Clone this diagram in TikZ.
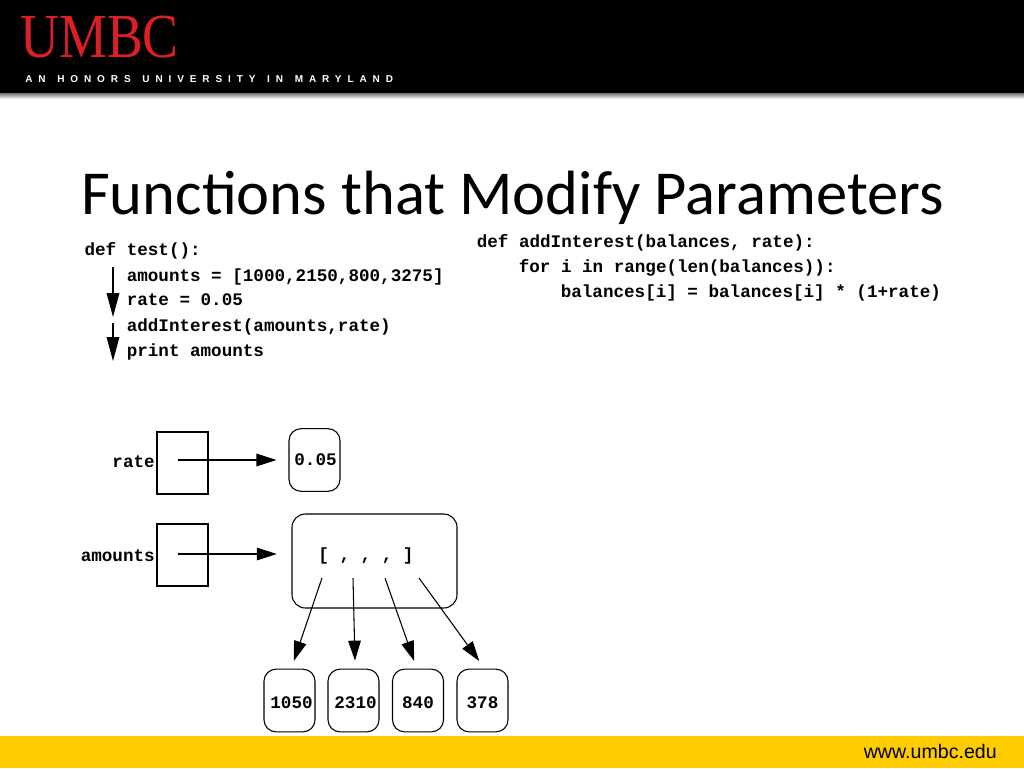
\documentclass[tikz,border=0pt]{standalone}
\usepackage{fontspec}
\setmainfont{Carlito}
\setmonofont{Liberation Mono}
\newfontfamily\logofont{Liberation Serif}
\newfontfamily\webfont{Liberation Sans}
\newfontfamily\tagfont[LetterSpace=59, WordSpace=1.35]{Liberation Sans Bold}
\usetikzlibrary{arrows.meta}
\definecolor{umbcred}{RGB}{218,32,38}
\definecolor{umbcgold}{RGB}{255,204,0}
\tikzset{
    codeline/.style={anchor=base west, inner sep=0pt, font=\fontsize{13.2pt}{15pt}\selectfont\ttfamily\bfseries},
    varname/.style={codeline, anchor=base east},
    valbox/.style={draw, rounded corners=9pt, line width=0.8pt, inner sep=0pt, minimum width=38.25pt, minimum height=47pt, font=\fontsize{13.2pt}{15pt}\selectfont\ttfamily\bfseries},
    itembox/.style={valbox, text height=12pt, text depth=0pt},
    nudged/.style={execute at begin node=\hspace{3pt}},
    varbox/.style={draw, line width=0.8pt, inner sep=0pt, minimum width=38.25pt, minimum height=46.5pt},
    arrowline/.style={line width=0.8pt, -{Triangle[length=15pt, width=9.5pt]}},
    flowline/.style={line width=0.8pt, -{Triangle[length=18pt, width=9.5pt]}}
}
\begin{document}
\begin{tikzpicture}[x=0.75pt, y=-0.75pt]
    \useasboundingbox (0,0) rectangle (1024,768);
    % header and footer
    \fill [white] (0,0) rectangle (1024,768);
    \shade [top color=black!55, bottom color=white] (0,93) rectangle (1024,99);
    \fill [black] (0,0) rectangle (1024,93);
    \fill [umbcgold] (0,736) rectangle (1024,768);
    \node [anchor=base west, inner sep=0pt, text=umbcred, xscale=0.86, font=\fontsize{47pt}{47pt}\selectfont\logofont] (logo) at (20,57) {UMBC};
    \node [anchor=base west, inner sep=0pt, text=white, font=\fontsize{7.5pt}{8pt}\selectfont\tagfont] (tagline) at (25,82) {AN HONORS UNIVERSITY IN MARYLAND};
    \node [anchor=base east, inner sep=0pt, font=\fontsize{14.7pt}{16pt}\selectfont\webfont] (website) at (997,758) {www.umbc.edu};
    \node [anchor=base west, inner sep=0pt, font=\fontsize{46.9pt}{50pt}\selectfont] (title) at (81,214) {Functions that Modify Parameters};
    % code on the left
    \node [codeline] (deftest) at (84.3,255) {def test():};
    \node [codeline] (amountsline) at (126.5,281) {amounts = [1000,2150,800,3275]};
    \node [codeline] (rateline) at (126.5,305.5) {rate = 0.05};
    \node [codeline] (callline) at (126.5,331) {addInterest(amounts,rate)};
    \node [codeline] (printline) at (126.5,356) {print amounts};
    % code on the right
    \node [codeline] (defadd) at (476.5,247) {def addInterest(balances, rate):};
    \node [codeline] (forline) at (518.5,272) {for i in range(len(balances)):};
    \node [codeline] (setline) at (560.5,297) {balances[i] = balances[i] * (1+rate)};
    % flow of control
    \coordinate (flowatop) at (113,267);
    \coordinate (flowabot) at (113,317);
    \coordinate (flowbtop) at (113,323);
    \coordinate (flowbbot) at (113,361);
    \draw [flowline] (flowatop) -- (flowabot);
    \draw [flowline] (flowbtop) -- (flowbbot);
    % variables
    \node [varbox] (ratebox) at (182.5,463) {};
    \node [varbox] (amountsbox) at (182.5,555) {};
    \node [varname] (ratename) at (155,467) {rate};
    \node [varname] (amountsname) at (155,561) {amounts};
    \node [valbox, execute at begin node=\hspace{1.5pt}] (rateval) at (314.5,460) {0.05};
    \node [draw, rounded corners=10pt, line width=0.8pt, minimum width=123.75pt, minimum height=70.5pt] (listbox) at (374.5,561) {};
    \node [codeline, anchor=base] (listtext) at (366,560) {[ , , , ]};
    \coordinate (ratefrom) at (178,460);
    \coordinate (amountsfrom) at (178,554);
    \draw [arrowline, shorten >=9pt] (ratefrom) -- (rateval.west);
    \draw [arrowline, shorten >=11pt] (amountsfrom) -- (listbox.west |- amountsfrom);
    % list items
    \node [itembox, nudged] (itema) at (289.5,700.5) {1050};
    \node [itembox, nudged] (itemb) at (353.5,700.5) {2310};
    \node [itembox] (itemc) at (418,700.5) {840};
    \node [itembox] (itemd) at (482.5,700.5) {378};
    \coordinate (froma) at (322,578);
    \coordinate (fromb) at (353,578);
    \coordinate (fromc) at (385,578);
    \coordinate (fromd) at (419,578);
    \draw [arrowline, shorten >=6pt] (froma) -- (itema.87);
    \draw [arrowline, shorten >=6pt] (fromb) -- (itemb.87);
    \draw [arrowline, shorten >=6pt] (fromc) -- (itemc.92);
    \draw [arrowline, shorten >=7pt] (fromd) -- (itemd.86);
\end{tikzpicture}
\end{document}
